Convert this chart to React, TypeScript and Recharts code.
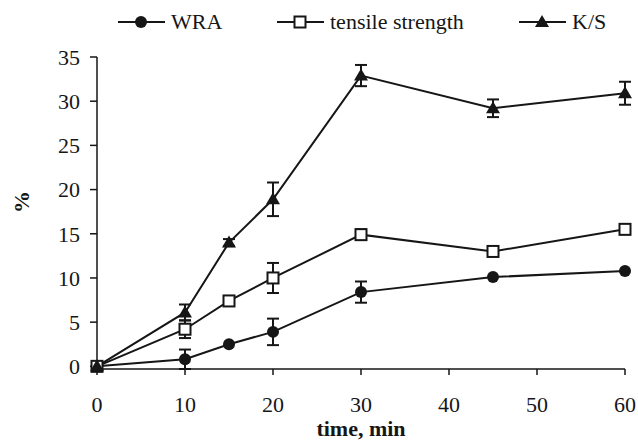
import React from "react";
import {
  LineChart,
  Line,
  XAxis,
  YAxis,
  ErrorBar,
  Legend,
} from "recharts";

const times = [0, 10, 15, 20, 30, 45, 60];
const wraValues = [0, 0.8, 2.5, 3.9, 8.4, 10.1, 10.8];
const wraErrors = [null, 1.1, null, 1.5, 1.2, null, null];
const tensileValues = [0, 4.2, 7.4, 10.0, 14.9, 13.0, 15.5];
const tensileErrors = [null, 1.0, null, 1.7, 0.6, null, null];
const ksValues = [0, 6.1, 14.0, 18.9, 32.9, 29.2, 30.9];
const ksErrors = [null, 0.9, 0.4, 1.9, 1.2, 1.0, 1.3];

const xTicks = [0, 10, 20, 30, 40, 50, 60];
const yTicks = [0, 5, 10, 15, 20, 25, 30, 35];

const data = times.map((t, i) => ({
  time: t,
  wra: wraValues[i],
  wraErr: wraErrors[i],
  tensile: tensileValues[i],
  tensileErr: tensileErrors[i],
  ks: ksValues[i],
  ksErr: ksErrors[i],
}));

const INK = "#161616";
const FONT = "'Liberation Serif', 'Times New Roman', serif";

// marker shapes shared by the plot and the legend
const Circle = ({ cx, cy }: { cx: number; cy: number }) => (
  <circle cx={cx} cy={cy} r={6} fill={INK} />
);
const Square = ({ cx, cy }: { cx: number; cy: number }) => (
  <rect x={cx - 5.5} y={cy - 5.5} width={11} height={11} fill="#fff" stroke={INK} strokeWidth={2} />
);
const Triangle = ({ cx, cy }: { cx: number; cy: number }) => (
  <polygon
    points={`${cx},${cy - 7} ${cx - 7},${cy + 5} ${cx + 7},${cy + 5}`}
    fill={INK}
  />
);

const makeDot = (Shape: React.FC<{ cx: number; cy: number }>) => (props: any) => {
  const { cx, cy, index } = props;
  if (cx == null || cy == null) return <g key={`d-${index}`} />;
  return (
    <g key={`d-${index}`}>
      <Shape cx={cx} cy={cy} />
    </g>
  );
};

const legendItems = [
  { label: "WRA", Shape: Circle, left: 118 },
  { label: "tensile strength", Shape: Square, left: 277 },
  { label: "K/S", Shape: Triangle, left: 519 },
];

const CustomLegend = () => (
  <div style={{ position: "relative", height: 36, width: 638, fontFamily: FONT }}>
    {legendItems.map(({ label, Shape, left }) => (
      <div
        key={label}
        style={{
          position: "absolute",
          left,
          top: 8,
          height: 28,
          display: "flex",
          alignItems: "center",
        }}
      >
        <svg width={48} height={20} style={{ display: "block" }}>
          <line x1={0} y1={10} x2={47} y2={10} stroke={INK} strokeWidth={2} />
          <Shape cx={23} cy={10} />
        </svg>
        <span style={{ marginLeft: 5, fontSize: 22, color: INK, lineHeight: "28px", fontFamily: FONT }}>
          {label}
        </span>
      </div>
    ))}
  </div>
);

const YLabel = (props: any) => {
  const { y, height } = props.viewBox;
  const cx = 21;
  const cy = y + height / 2 - 11;
  return (
    <text
      x={cx}
      y={cy}
      transform={`rotate(-90, ${cx}, ${cy})`}
      textAnchor="middle"
      dominantBaseline="central"
      style={{ fontFamily: FONT, fontWeight: "bold", fontSize: 22, fill: INK }}
    >
      %
    </text>
  );
};

const tickStyle = { fontSize: 22, fill: INK, style: { fontFamily: FONT } };

export default function App() {
  return (
    <div style={{ position: "absolute", left: 0, top: 0, fontFamily: FONT }}>
      <LineChart
        width={638}
        height={443}
        data={data}
        margin={{ top: 21, right: 13, bottom: 30, left: 8 }}
        style={{ fontFamily: FONT }}
      >
        <Legend
          verticalAlign="top"
          content={() => <CustomLegend />}
          wrapperStyle={{ top: 0, left: 0, width: 638, height: 36 }}
        />
        <XAxis
          dataKey="time"
          type="number"
          domain={[0, 60]}
          ticks={xTicks}
          tick={tickStyle}
          tickSize={6}
          tickMargin={21}
          height={44}
          stroke={INK}
          strokeWidth={1.5}
          label={{
            value: "time, min",
            position: "bottom",
            offset: 7,
            style: { fontFamily: FONT, fontSize: 22, fontWeight: "bold", fill: INK },
          }}
        />
        <YAxis
          type="number"
          domain={[0, 35]}
          ticks={yTicks}
          tick={tickStyle}
          tickSize={7}
          tickMargin={10}
          width={89}
          stroke={INK}
          strokeWidth={1.5}
          label={{ content: YLabel }}
        />
        <Line
          dataKey="wra"
          stroke={INK}
          strokeWidth={2}
          dot={makeDot(Circle)}
          activeDot={false}
          isAnimationActive={false}
        >
          <ErrorBar dataKey="wraErr" width={6} stroke={INK} strokeWidth={2} />
        </Line>
        <Line
          dataKey="tensile"
          stroke={INK}
          strokeWidth={2}
          dot={makeDot(Square)}
          activeDot={false}
          isAnimationActive={false}
        >
          <ErrorBar dataKey="tensileErr" width={6} stroke={INK} strokeWidth={2} />
        </Line>
        <Line
          dataKey="ks"
          stroke={INK}
          strokeWidth={2}
          dot={makeDot(Triangle)}
          activeDot={false}
          isAnimationActive={false}
        >
          <ErrorBar dataKey="ksErr" width={6} stroke={INK} strokeWidth={2} />
        </Line>
      </LineChart>
    </div>
  );
}
